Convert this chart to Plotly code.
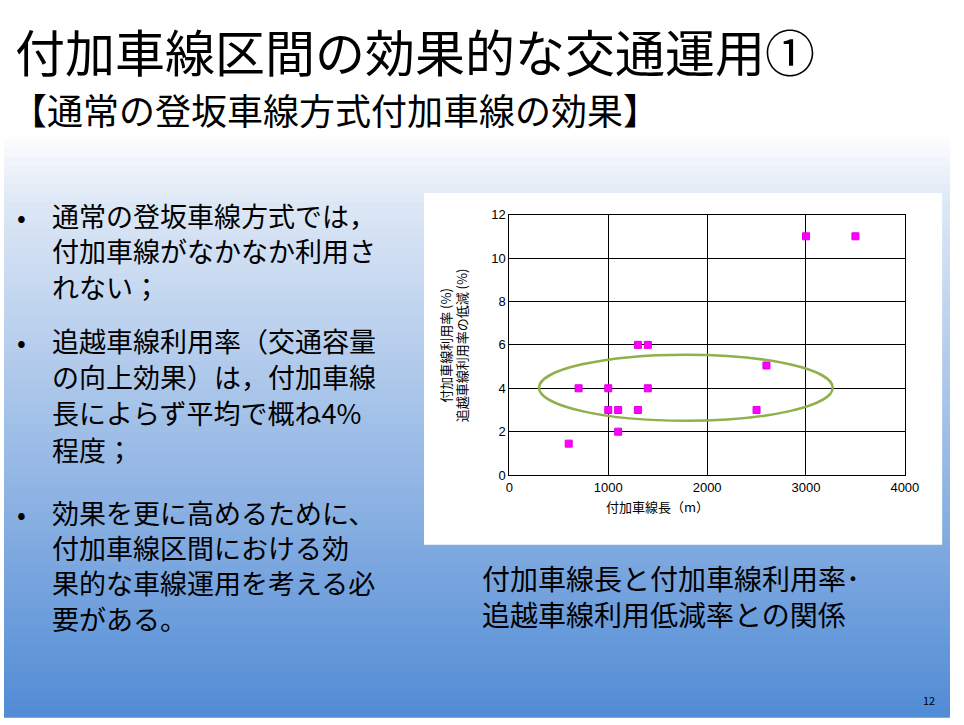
import plotly.graph_objects as go

lengths = [600, 700, 1000, 1000, 1100, 1100, 1300, 1400, 1300, 1400, 2500, 2600, 3000, 3500]
rates = [1.45, 4.0, 4.0, 3.0, 3.0, 2.0, 6.0, 6.0, 3.0, 4.0, 3.0, 5.05, 11.0, 11.0]
x_ticks = [0, 1000, 2000, 3000, 4000]
y_ticks = [0, 2, 4, 6, 8, 10, 12]

W, H = 964, 725
FONT = "Noto Sans CJK JP"

def px(x):
    return x / W

def py(y):
    return 1 - y / H

fig = go.Figure()
fig.add_trace(go.Scatter(x=lengths, y=rates, mode="markers",
                         marker=dict(symbol="square", size=7, color="#ff00ff",
                                     line=dict(width=1, color="#e000e0")),
                         showlegend=False, hoverinfo="x+y"))

shapes = []
N = 80
top_c = (255, 255, 255)
mid_c = (222, 232, 246)
bot_c = (82, 140, 214)
for i in range(N):
    y0 = i * H / N
    y1 = (i + 1) * H / N
    yc = (y0 + y1) / 2
    if yc < 130:
        c = top_c
    elif yc < 200:
        t = (yc - 130) / 70
        c = tuple(int(top_c[k] + (mid_c[k] - top_c[k]) * t) for k in range(3))
    else:
        t = (yc - 200) / (H - 200)
        c = tuple(int(mid_c[k] + (bot_c[k] - mid_c[k]) * t) for k in range(3))
    shapes.append(dict(type="rect", xref="paper", yref="paper", x0=0, x1=1,
                       y0=py(y1) - 0.001, y1=py(y0) + 0.001, layer="below",
                       line=dict(width=0), fillcolor="rgb(%d,%d,%d)" % c))
shapes.append(dict(type="rect", xref="paper", yref="paper", x0=px(428), x1=px(956),
                   y0=py(549), y1=py(190), layer="below", line=dict(width=0),
                   fillcolor="white"))
shapes.append(dict(type="circle", xref="x", yref="y", x0=300, x1=3270, y0=2.5, y1=5.55,
                   line=dict(color="#8fb04a", width=2.5), layer="above"))

ann = []
def txt(x, y, s, size, anchor="left"):
    ann.append(dict(x=px(x), y=py(y), xref="paper", yref="paper", text=s, showarrow=False,
                    xanchor=anchor, yanchor="middle", borderpad=0,
                    font=dict(family=FONT, size=size, color="black")))

txt(10, 44, "付加車線区間の効果的な交通運用①", 50)
txt(6, 104, "【通常の登坂車線方式付加車線の効果】", 36)

bullets = [
    [(213, "通常の登坂車線方式では，"), (249, "付加車線がなかなか利用さ"), (285, "れない；")],
    [(341, "追越車線利用率（交通容量"), (377, "の向上効果）は，付加車線"), (414, "長によらず平均で概ね4%"), (452, "程度；")],
    [(516, "効果を更に高めるために、"), (552, "付加車線区間における効"), (588, "果的な車線運用を考える必"), (624, "要がある。")],
]
for group in bullets:
    txt(12, group[0][0], "•", 26)
    for y, s in group:
        txt(48, y, s, 27)

txt(486, 583, "付加車線長と付加車線利用率･", 28)
txt(486, 620, "追越車線利用低減率との関係", 28)
txt(950, 708, "12", 11, anchor="right")
ann.append(dict(x=px(720), y=py(522), xref="paper", yref="paper", text="付加車線長（m）",
                showarrow=False, font=dict(family=FONT, size=13, color="black")))
ann.append(dict(x=px(458), y=py(345), xref="paper", yref="paper",
                text="付加車線利用率 (%)<br>追越車線利用率の低減 (%)", textangle=-90,
                showarrow=False, font=dict(family=FONT, size=13, color="black")))

fig.update_layout(
    width=W, height=H, margin=dict(l=0, r=0, t=0, b=0),
    paper_bgcolor="white", plot_bgcolor="white",
    shapes=shapes, annotations=ann,
    xaxis=dict(domain=[px(515), px(918)], range=[0, 4000], tickvals=x_ticks,
               showgrid=True, gridcolor="black", gridwidth=1, zeroline=False,
               showline=True, linecolor="black", mirror=True, ticks="",
               tickfont=dict(family="Arial, Liberation Sans", size=13, color="black")),
    yaxis=dict(domain=[py(478), py(212)], range=[0, 12], tickvals=y_ticks,
               showgrid=True, gridcolor="black", gridwidth=1, zeroline=False,
               showline=True, linecolor="black", mirror=True, ticks="",
               tickfont=dict(family="Arial, Liberation Sans", size=13, color="black")),
)
fig.write_html("out.html", config={"displayModeBar": False})
with open("out.html", encoding="utf-8") as f:
    html = f.read()
html = html.replace("<head>", "<head><style>html,body{margin:0;padding:0;overflow:hidden}</style>", 1)
with open("out.html", "w", encoding="utf-8") as f:
    f.write(html)
